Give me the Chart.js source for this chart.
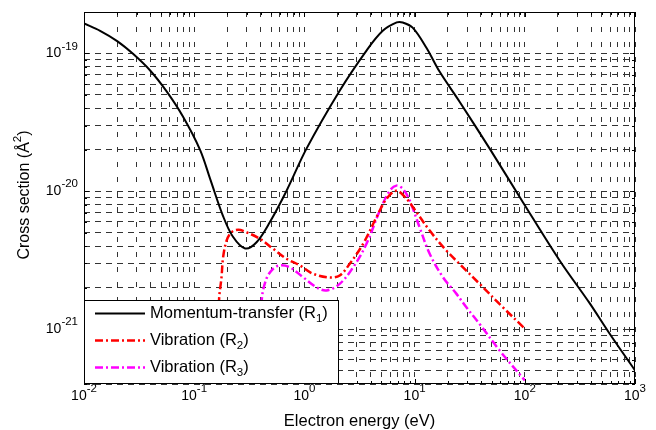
<!DOCTYPE html>
<html>
<head>
<meta charset="utf-8">
<script src="https://cdn.jsdelivr.net/npm/chart.js@4.4.1/dist/chart.umd.min.js"></script>
<style>
  html, body { margin: 0; padding: 0; background: #fff; }
  canvas { display: block; }
</style>
</head>
<body>
<canvas id="cs" width="656" height="430"></canvas>
<script>
// electron energy (eV) and cross sections (A^2) for the three processes
const energyMomentum = [0.01, 0.014, 0.02, 0.028, 0.04, 0.056, 0.079, 0.113, 0.140, 0.182, 0.224, 0.290,
  0.368, 0.485, 0.689, 1.045, 2.09, 3.66, 5.14, 6.88, 7.8, 9.6, 12.8, 16.9, 25.6, 48.0, 95.5,
  207, 386, 587, 1000];
const sigmaMomentum = [1.65e-19, 1.46e-19, 1.23e-19, 9.9e-20, 7.5e-20, 5.33e-20, 3.49e-20, 2.00e-20,
  1.22e-20, 6.67e-21, 4.70e-21, 3.85e-21, 4.27e-21, 5.96e-21, 1.01e-20, 2.04e-20, 5.37e-20, 1.05e-19,
  1.46e-19, 1.68e-19, 1.68e-19, 1.54e-19, 1.10e-19, 7.36e-20, 4.47e-20, 2.04e-20, 8.41e-21,
  3.15e-21, 1.55e-21, 9.3e-22, 5.02e-22];

const energyVib2 = [0.166, 0.168, 0.177, 0.183, 0.197, 0.218, 0.251, 0.298, 0.395, 0.52, 0.689, 0.908,
  1.2, 1.7, 2.09, 2.58, 3.41, 4.51, 5.55, 6.84, 8.43, 9.68, 13.7, 19.4, 27.5, 38.9, 63.3, 100];
const sigmaVib2 = [3e-22, 1.6e-21, 2.38e-21, 3.33e-21, 4.40e-21, 5.05e-21, 5.27e-21, 5.05e-21, 4.52e-21,
  3.83e-21, 3.24e-21, 2.90e-21, 2.52e-21, 2.37e-21, 2.45e-21, 2.98e-21, 4.16e-21, 6.49e-21, 8.8e-21,
  1.01e-20, 8.85e-21, 7.66e-21, 5.19e-21, 3.72e-21, 2.81e-21, 2.13e-21, 1.44e-21, 1.01e-21];

const energyVib3 = [0.40, 0.41, 0.453, 0.52, 0.598, 0.738, 0.973, 1.29, 1.59, 2.09, 2.77, 3.66, 4.83,
  5.95, 6.84, 7.85, 9.03, 11.1, 13.7, 18.1, 23.9, 29.5, 38.9, 59.1, 100];
const sigmaVib3 = [3e-22, 1.61e-21, 2.33e-21, 2.74e-21, 2.90e-21, 2.81e-21, 2.38e-21, 2.01e-21, 1.91e-21,
  2.13e-21, 2.81e-21, 4.16e-21, 7.24e-21, 1.01e-20, 1.10e-20, 1.04e-20, 8.57e-21, 5.48e-21, 3.52e-21,
  2.38e-21, 1.81e-21, 1.44e-21, 1.09e-21, 7.0e-22, 4.25e-22];

const seriesNames = ['Momentum-transfer', 'Vibration', 'Vibration'];
const seriesSubs = ['1', '2', '3'];

// axis limits and decade labels
const xMin = 0.01, xMax = 1000;
const yMin = 4e-22, yMax = 2e-19;
const xDecades = [-2, -1, 0, 1, 2, 3];
const yDecades = [-22, -21, -20, -19];
const mantissas = [1, 2, 3, 4, 5, 6, 7, 8, 9];

function gridValues(decades, lo, hi) {
  const out = [];
  decades.forEach(d => mantissas.forEach(m => {
    const v = parseFloat(m + 'e' + d);
    if (v >= lo * 0.999 && v <= hi * 1.001) out.push(v);
  }));
  return out;
}
const xTicks = gridValues(xDecades, xMin, xMax);
const yTicks = gridValues(yDecades, yMin, yMax);

const FONT = '"Liberation Sans", Arial, Helvetica, sans-serif';
const isDecade = v => Math.abs(Math.log10(v) - Math.round(Math.log10(v))) < 1e-6;

function pts(xs, ys) {
  return xs.map((v, i) => ({ x: v, y: ys[i] }));
}

// "10" with a raised exponent
function powerLabel(ctx, exp, x, y, align) {
  const base = '10', sup = String(exp);
  ctx.font = '14px ' + FONT;
  const wb = ctx.measureText(base).width;
  ctx.font = '11.5px ' + FONT;
  const ws = ctx.measureText(sup).width;
  const x0 = align === 'center' ? x - (wb + ws) / 2 : x - (wb + ws);
  ctx.textAlign = 'left';
  ctx.textBaseline = 'middle';
  ctx.font = '14px ' + FONT;
  ctx.fillText(base, x0, y);
  ctx.font = '11.5px ' + FONT;
  ctx.fillText(sup, x0 + wb, y - 7);
}

const framePlugin = {
  id: 'frame',
  afterDraw(chart) {
    const { ctx, chartArea: a, scales: { x, y } } = chart;
    ctx.save();
    ctx.fillStyle = '#000';
    ctx.strokeStyle = '#000';
    ctx.lineWidth = 1;

    // inward tick marks on all four sides
    ctx.beginPath();
    xTicks.forEach(v => {
      const px = Math.round(x.getPixelForValue(v)) + 0.5;
      const len = isDecade(v) ? 5 : 3;
      ctx.moveTo(px, a.bottom); ctx.lineTo(px, a.bottom - len);
      ctx.moveTo(px, a.top); ctx.lineTo(px, a.top + len);
    });
    yTicks.forEach(v => {
      const py = Math.round(y.getPixelForValue(v)) + 0.5;
      const len = isDecade(v) ? 5 : 3;
      ctx.moveTo(a.left, py); ctx.lineTo(a.left + len, py);
      ctx.moveTo(a.right, py); ctx.lineTo(a.right - len, py);
    });
    ctx.stroke();

    // legend box in the lower left corner
    const lgTop = 300.5, lgRight = 338.5;
    ctx.fillStyle = '#fff';
    ctx.fillRect(a.left, lgTop, lgRight - a.left, a.bottom - lgTop);
    ctx.strokeStyle = '#000';
    ctx.lineWidth = 1;
    ctx.strokeRect(a.left + 0.5, lgTop, lgRight - a.left - 0.5, a.bottom - lgTop - 0.5);
    chart.data.datasets.forEach((ds, i) => {
      const ry = lgTop + 13 + i * 27;
      ctx.save();
      ctx.strokeStyle = ds.borderColor;
      ctx.lineWidth = ds.borderWidth;
      ctx.setLineDash(ds.borderDash || []);
      ctx.beginPath();
      ctx.moveTo(95, ry); ctx.lineTo(145, ry);
      ctx.stroke();
      ctx.restore();
      ctx.fillStyle = '#000';
      ctx.textAlign = 'left';
      ctx.textBaseline = 'middle';
      ctx.font = '16.5px ' + FONT;
      const head = seriesNames[i] + ' (R';
      ctx.fillText(head, 150, ry);
      let tx = 150 + ctx.measureText(head).width;
      ctx.font = '11.5px ' + FONT;
      ctx.fillText(seriesSubs[i], tx, ry + 5);
      tx += ctx.measureText(seriesSubs[i]).width;
      ctx.font = '16.5px ' + FONT;
      ctx.fillText(')', tx, ry);
    });

    // plot frame
    ctx.strokeRect(a.left + 0.5, a.top + 0.5, a.right - a.left - 1, a.bottom - a.top - 1);

    // decade tick labels
    ctx.fillStyle = '#000';
    xDecades.forEach(d => powerLabel(ctx, d, x.getPixelForValue(parseFloat('1e' + d)), a.bottom + 12, 'center'));
    yDecades.forEach(d => {
      const v = parseFloat('1e' + d);
      if (v >= yMin && v <= yMax) powerLabel(ctx, d, a.left - 6, y.getPixelForValue(v), 'right');
    });

    // axis titles
    ctx.font = '16.5px ' + FONT;
    ctx.textAlign = 'center';
    ctx.textBaseline = 'middle';
    ctx.fillText('Electron energy (eV)', (a.left + a.right) / 2, 421);

    ctx.save();
    ctx.translate(25, (a.top + a.bottom) / 2 - 3);
    ctx.rotate(-Math.PI / 2);
    const main = 'Cross section (\u00C5';
    ctx.font = '16px ' + FONT;
    const wm = ctx.measureText(main).width;
    ctx.font = '11.5px ' + FONT;
    const w2 = ctx.measureText('2').width;
    ctx.font = '16px ' + FONT;
    const wc = ctx.measureText(')').width;
    let sx = -(wm + w2 + wc) / 2;
    ctx.textAlign = 'left';
    ctx.fillText(main, sx, 0);
    sx += wm;
    ctx.font = '11.5px ' + FONT;
    ctx.fillText('2', sx, -7);
    sx += w2;
    ctx.font = '16px ' + FONT;
    ctx.fillText(')', sx, 0);
    ctx.restore();

    ctx.restore();
  }
};

const dashDot = [8, 3, 2, 3];

new Chart(document.getElementById('cs'), {
  type: 'line',
  data: {
    datasets: [
      {
        label: 'Momentum-transfer (R1)',
        data: pts(energyMomentum, sigmaMomentum),
        borderColor: '#000000',
        borderWidth: 2,
        pointRadius: 0,
        fill: false,
        tension: 0.35,
      },
      {
        label: 'Vibration (R2)',
        data: pts(energyVib2, sigmaVib2),
        borderColor: '#ff0000',
        borderWidth: 2.5,
        borderDash: dashDot,
        pointRadius: 0,
        fill: false,
        tension: 0.35,
      },
      {
        label: 'Vibration (R3)',
        data: pts(energyVib3, sigmaVib3),
        borderColor: '#ff00ff',
        borderWidth: 2.5,
        borderDash: dashDot,
        pointRadius: 0,
        fill: false,
        tension: 0.35,
      },
    ],
  },
  options: {
    responsive: false,
    animation: false,
    layout: { padding: { left: 84, right: 21, top: 12, bottom: 46 } },
    plugins: { legend: { display: false }, tooltip: { enabled: false } },
    scales: {
      x: {
        type: 'logarithmic',
        min: xMin,
        max: xMax,
        afterBuildTicks: s => { s.ticks = xTicks.map(v => ({ value: v })); },
        ticks: { display: false },
        grid: { color: '#333', lineWidth: 1, drawTicks: false },
        border: { display: false, dash: [5, 10] },
      },
      y: {
        type: 'logarithmic',
        min: yMin,
        max: yMax,
        afterBuildTicks: s => { s.ticks = yTicks.map(v => ({ value: v })); },
        ticks: { display: false },
        grid: { color: '#333', lineWidth: 1, drawTicks: false },
        border: { display: false, dash: [6, 5] },
      },
    },
  },
  plugins: [framePlugin],
});
</script>
</body>
</html>
